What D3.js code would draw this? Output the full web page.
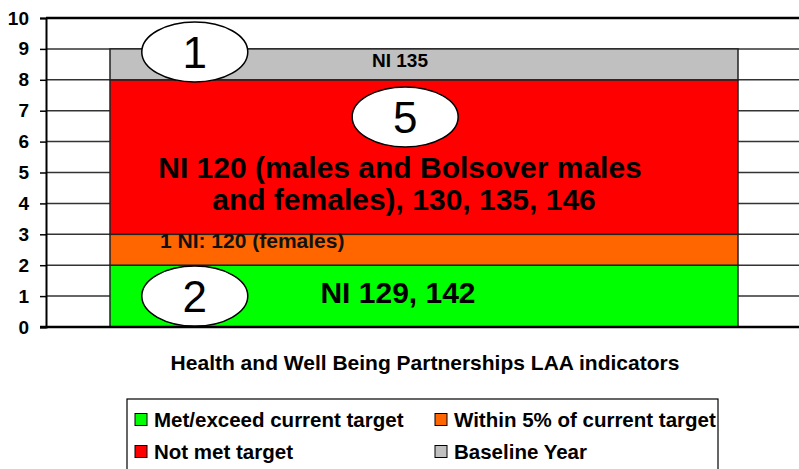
<!DOCTYPE html>
<head>
  <meta charset="utf-8">
  <script src="https://d3js.org/d3.v7.min.js"></script>
  <style>
    body { margin: 0; background: #fff; }
    text { font-family: Arial, "Liberation Sans", sans-serif; }
  </style>
</head>
<body>
<svg width="799" height="469"></svg>
<script type="text/javascript">
// Chart data
var categories = ["Health and Well Being Partnerships LAA indicators"];
var seriesNames = ["Met/exceed current target", "Within 5% of current target", "Not met target", "Baseline Year"];
var seriesValues = [2, 1, 5, 1];
var seriesColors = ["#00ff00", "#ff6600", "#ff0000", "#c0c0c0"];
var yTicks = [0, 1, 2, 3, 4, 5, 6, 7, 8, 9, 10];

// annotation bubbles: count and the value they sit at
var bubbleCounts = ["2", "5", "1"];
var bubbleValues = [1.0, 6.8, 8.9];
var bubbleOffsets = [-0.365, -0.03, -0.365];   // fraction of bar width from centre

var width = 799, height = 469;
var svg = d3.select("svg");

var y = d3.scaleLinear().domain([0, 10]).range([327, 18]);
var barLeft = 110, barRight = 738;
var barX = d3.scaleLinear().domain([0, 1]).range([barLeft, barRight]);

// gridlines
svg.append("g").selectAll("line")
  .data(yTicks.filter(function(d) { return d > 0 && d < 10; }))
  .enter().append("line")
  .attr("x1", 46).attr("x2", width)
  .attr("y1", function(d) { return y(d); })
  .attr("y2", function(d) { return y(d); })
  .attr("stroke", "#333").attr("stroke-width", 1.5);

// stacked segments
var stacked = [], acc = 0;
seriesValues.forEach(function(v, i) {
  stacked.push({ y0: acc, y1: acc + v, color: seriesColors[i] });
  acc += v;
});
svg.append("g").selectAll("rect")
  .data(stacked)
  .enter().append("rect")
  .attr("x", barX(0))
  .attr("width", barX(1) - barX(0))
  .attr("y", function(d) { return y(d.y1); })
  .attr("height", function(d) { return y(d.y0) - y(d.y1); })
  .attr("fill", function(d) { return d.color; })
  .attr("stroke", "#222").attr("stroke-width", 1.5);

// top and bottom frame lines
svg.append("line").attr("x1", 46).attr("x2", width).attr("y1", y(10)).attr("y2", y(10))
  .attr("stroke", "#000").attr("stroke-width", 2.5);
svg.append("line").attr("x1", 40).attr("x2", width).attr("y1", y(0)).attr("y2", y(0))
  .attr("stroke", "#000").attr("stroke-width", 2.5);

// y axis
var yAxis = d3.axisLeft(y).tickValues(yTicks).tickSize(6).tickPadding(11);
var gy = svg.append("g").attr("transform", "translate(46,0)").call(yAxis);
gy.select(".domain").attr("stroke", "#000").attr("stroke-width", 2);
gy.selectAll(".tick line").attr("stroke", "#000").attr("stroke-width", 1.5);
gy.selectAll(".tick text")
  .attr("font-size", 19).attr("font-weight", "bold").attr("fill", "#000");

// segment labels
var labelX = 400;
svg.append("text").attr("x", labelX).attr("y", y(8.41))
  .attr("text-anchor", "middle").attr("font-size", 19).attr("font-weight", "bold")
  .text("NI 135");
svg.append("text").attr("x", labelX).attr("y", y(4.82))
  .attr("text-anchor", "middle").attr("font-size", 30).attr("font-weight", "bold")
  .text("NI 120 (males and Bolsover males");
svg.append("text").attr("x", labelX + 4).attr("y", y(3.79))
  .attr("text-anchor", "middle").attr("font-size", 30).attr("font-weight", "bold")
  .text("and females), 130, 135, 146");
svg.append("text").attr("x", 160).attr("y", y(2.56))
  .attr("font-size", 21).attr("font-weight", "bold").attr("fill", "#111")
  .text("1 NI: 120 (females)");
svg.append("text").attr("x", labelX - 2).attr("y", y(0.78))
  .attr("text-anchor", "middle").attr("font-size", 30).attr("font-weight", "bold")
  .text("NI 129, 142");

// count bubbles
var bubbles = svg.append("g").selectAll("g")
  .data(bubbleCounts)
  .enter().append("g")
  .attr("transform", function(d, i) {
    return "translate(" + barX(0.5 + bubbleOffsets[i]) + "," + y(bubbleValues[i]) + ")";
  });
bubbles.append("ellipse").attr("rx", 53).attr("ry", 30)
  .attr("fill", "#fff").attr("stroke", "#000").attr("stroke-width", 1.5);
bubbles.append("text").attr("text-anchor", "middle").attr("dy", "0.36em")
  .attr("font-size", 44).text(function(d) { return d; });

// x axis title
svg.append("text").attr("x", 425).attr("y", 370)
  .attr("text-anchor", "middle").attr("font-size", 21).attr("font-weight", "bold")
  .text(categories[0]);

// legend
var legend = svg.append("g");
legend.append("rect").attr("x", 127).attr("y", 399).attr("width", 591).attr("height", 80)
  .attr("fill", "#fff").attr("stroke", "#000").attr("stroke-width", 1.2);
var legendPos = [[135, 420], [435, 420], [135, 452], [435, 452]];
var items = legend.selectAll("g.item")
  .data(seriesNames)
  .enter().append("g").attr("class", "item")
  .attr("transform", function(d, i) { return "translate(" + legendPos[i][0] + "," + legendPos[i][1] + ")"; });
items.append("rect").attr("x", 0).attr("y", -6.5).attr("width", 12).attr("height", 12)
  .attr("fill", function(d, i) { return seriesColors[i]; })
  .attr("stroke", "#000").attr("stroke-width", 1);
items.append("text").attr("x", 19).attr("dy", "0.36em")
  .attr("font-size", 20.5).attr("font-weight", "bold")
  .text(function(d) { return d; });
</script>
</body>
</html>
